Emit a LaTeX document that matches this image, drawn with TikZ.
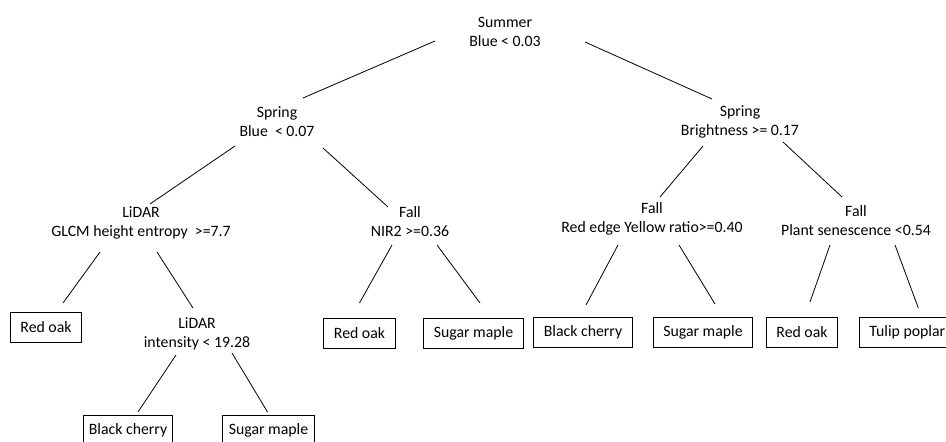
\documentclass[tikz,border=0pt]{standalone}
\usepackage{fontspec}
\setmainfont{Carlito}
\usepackage{tikz}
\usetikzlibrary{calc,positioning}

\begin{document}
\begin{tikzpicture}[x=1pt,y=-1pt,line width=0.8pt,font=\fontsize{15.8}{19}\selectfont]

   \tikzstyle{split}=[align=center,inner sep=0pt]
   \tikzstyle{leaf} =[draw,line width=0.9pt,inner xsep=10pt,inner ysep=0pt,minimum height=30pt]

   % page frame, the bottom row is cut off like in the original
   \useasboundingbox (0,0) rectangle (946,442);
   \clip (0,0) rectangle (946,442);

   % decision nodes
   \node[split] (root)  at (505,31.5) {Summer\\Blue < 0.03};
   \node[split] (sprL)  at (277,121.5) {Spring\\Blue\ \ < 0.07};
   \node[split] (sprR)  at (740,121.5) {Spring\\Brightness >= 0.17};
   \node[split] (glcm)  at (141,222.5) {LiDAR\\GLCM height entropy\ \ >=7.7};
   \node[split] (nir)   at (410,221.5) {Fall\\NIR2 >=0.36};
   \node[split] (redge) at (652,219) {Fall\\Red edge Yellow ratio>=0.40};
   \node[split] (plant) at (856,221) {Fall\\Plant senescence <0.54};
   \node[split] (lint)  at (197,334) {LiDAR\\intensity < 19.28};

   % species
   \node[leaf] (oakA)    at (46,327.5) {Red oak};
   \node[leaf] (oakB)    at (359.5,333) {Red oak};
   \node[leaf] (mapleA)  at (473.5,333) {Sugar maple};
   \node[leaf] (cherryA) at (583,332.5) {Black cherry};
   \node[leaf] (mapleB)  at (703,332.5) {Sugar maple};
   \node[leaf] (oakC)    at (802,332.5) {Red oak};
   \node[leaf,anchor=west] (tulip) at (859,332.5) {Tulip poplar};
   \node[leaf,inner xsep=5pt] (cherryB) at (128,430) {Black cherry};
   \node[leaf,inner xsep=6pt] (mapleC)  at (268.5,430) {Sugar maple};

   \draw ($(root)+(-70,9.5)$) -- ($(sprL)+(26,-23.5)$);
   \draw ($(root)+(80,10.5)$) -- ($(sprR)+(-28,-22.5)$);

   \draw ($(sprL)+(-42,24.5)$) -- ($(glcm)+(9,-18.5)$);
   \draw ($(sprL)+(46,26.5)$)  -- ($(nir)+(-22,-14.5)$);
   \draw ($(sprR)+(-37,24.5)$) -- ($(redge)+(8,-22)$);
   \draw ($(sprR)+(43,20.5)$)  -- ($(plant)+(-14,-24)$);

   \draw ($(glcm)+(-41,29.5)$)  -- ($(oakA)+(17,-24.5)$);
   \draw ($(glcm)+(16,29.5)$)   -- ($(lint)+(-4,-26)$);
   \draw ($(nir)+(-18,23.5)$)   -- ($(oakB)+(0,-30)$);
   \draw ($(nir)+(27,23.5)$)    -- ($(mapleA)+(6.5,-30)$);
   \draw ($(redge)+(-34,26)$)   -- ($(cherryA)+(3,-27.5)$);
   \draw ($(redge)+(27,26)$)    -- ($(mapleB)+(12,-28.5)$);
   \draw ($(plant)+(-26,24)$)   -- ($(oakC)+(8,-30.5)$);
   \draw ($(plant)+(39,24)$)    -- ($(tulip.center)+(11,-24.5)$);

   \draw ($(lint)+(-21,21)$) -- ($(cherryB)+(10,-18)$);
   \draw ($(lint)+(35,19)$)  -- ($(mapleC)+(-1,-18)$);

\end{tikzpicture}
\end{document}
